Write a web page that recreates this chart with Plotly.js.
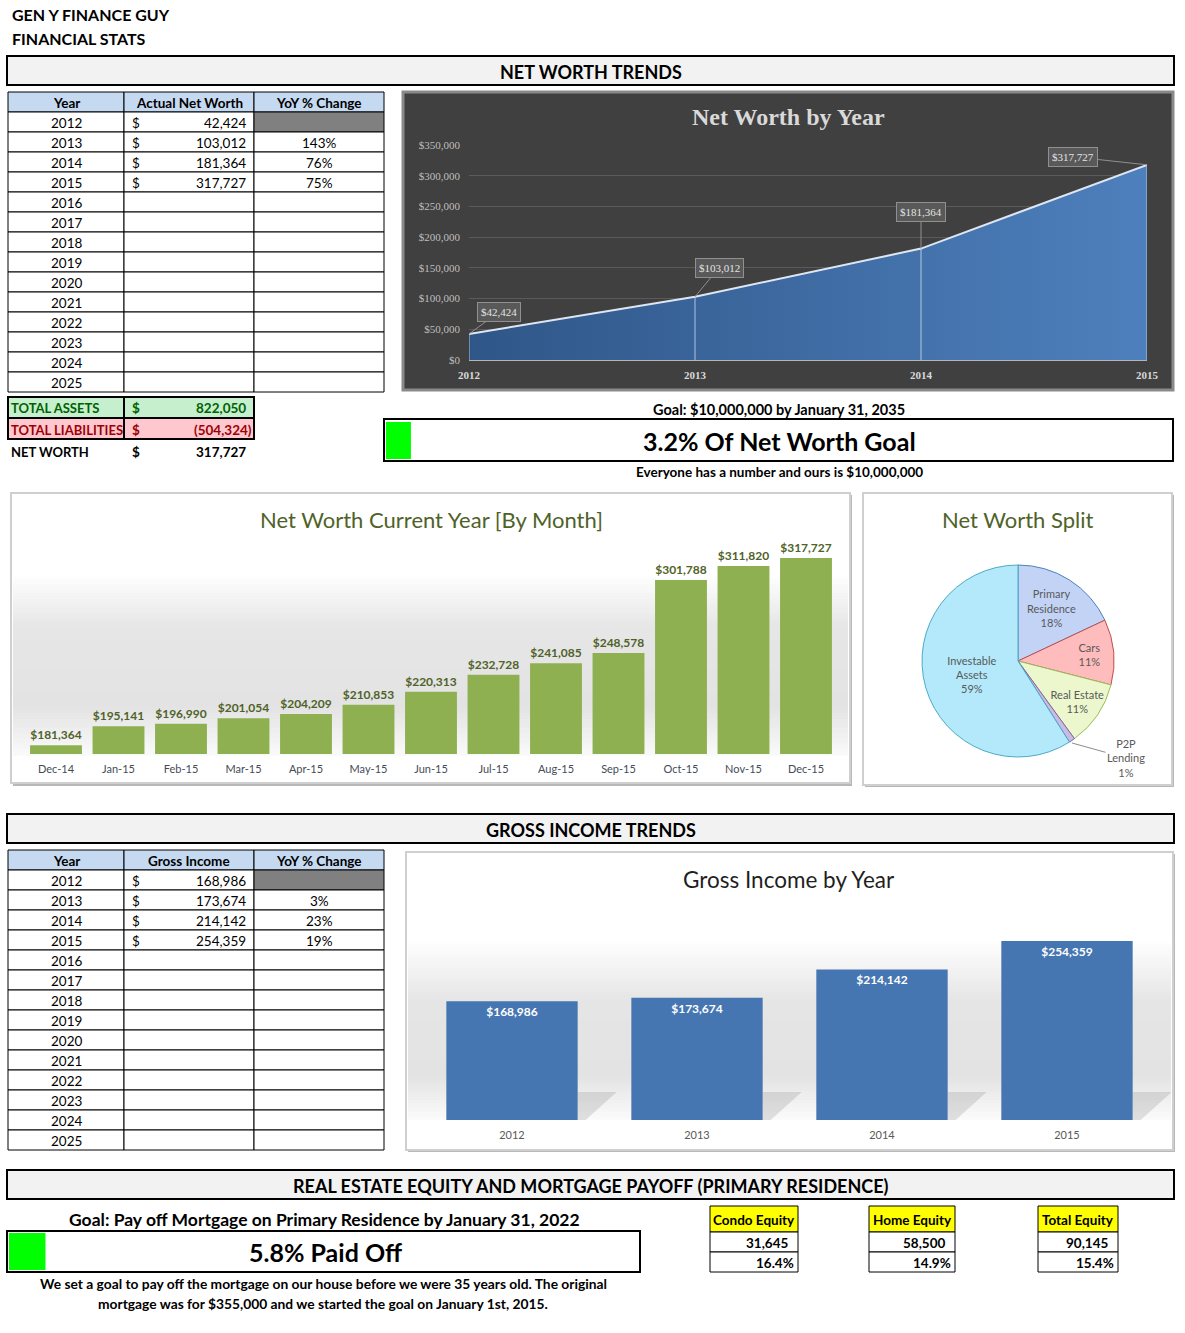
<!DOCTYPE html>
<html><head><meta charset="utf-8">
<script src="https://cdn.plot.ly/plotly-3.0.1.min.js"></script>
<style>html,body{margin:0;padding:0;background:#fff;}#chart{width:1185px;height:1333px;}</style>
</head><body><div id="chart"></div>
<script>
// ---------------- DATA ----------------
const tableYears = [2012,2013,2014,2015,2016,2017,2018,2019,2020,2021,2022,2023,2024,2025];
const netWorthActual = [42424, 103012, 181364, 317727];
const netWorthYoY = [null, 143, 76, 75];
const grossIncome = [168986, 173674, 214142, 254359];
const grossYoY = [null, 3, 23, 19];
const totalLabels = ['TOTAL ASSETS', 'TOTAL LIABILITIES', 'NET WORTH'];
const totalValues = [822050, -504324, 317727];
const months = ['Dec-14','Jan-15','Feb-15','Mar-15','Apr-15','May-15','Jun-15','Jul-15','Aug-15','Sep-15','Oct-15','Nov-15','Dec-15'];
const monthlyNetWorth = [181364,195141,196990,201054,204209,210853,220313,232728,241085,248578,301788,311820,317727];
const splitLabels = ['Primary<br>Residence','Cars','Real Estate','P2P<br>Lending','Investable<br>Assets'];
const splitPct = [18, 11, 11, 1, 59];
const netWorthGoal = 10000000;
const mortgagePaidPct = 5.8;
const equityNames = ['Condo Equity','Home Equity','Total Equity'];
const equityValues = [31645, 58500, 90145];
const equityPct = [16.4, 14.9, 15.4];

// ---------------- HELPERS ----------------
const W = 1185, H = 1333;
const PX = x => x / W, PY = y => 1 - y / H;
const F = 'Lato, "Open Sans", sans-serif';
const SERIF = '"Liberation Serif", "DejaVu Serif", serif';
const shapes = [], annotations = [];
const fmt = v => Math.abs(v).toLocaleString('en-US');
const money = v => v < 0 ? '(' + fmt(v) + ')' : fmt(v);

function rect(x0, y0, x1, y1, fill, lineColor, lineWidth) {
  shapes.push({type:'rect', xref:'paper', yref:'paper', layer:'below',
    x0:PX(x0), x1:PX(x1), y0:PY(y1), y1:PY(y0),
    fillcolor: fill || 'rgba(0,0,0,0)',
    line:{color: lineColor || 'rgba(0,0,0,0)', width: lineWidth || 0}});
}
function text(x, y, t, size, color, anchor, family) {
  annotations.push({xref:'paper', yref:'paper', x:PX(x), y:PY(y), text:t, showarrow:false,
    xanchor: anchor || 'center', yanchor:'middle', borderpad:0,
    font:{family: family || F, size: size || 13, color: color || '#000'}});
}
function hexToRgb(h){ return [1,3,5].map(i => parseInt(h.substr(i,2),16)); }
function gradient(x0, x1, stops, step) {
  const yEnd = stops[stops.length-1][0];
  for (let y = stops[0][0]; y < yEnd; y += step) {
    let k = 0; while (k < stops.length-2 && y >= stops[k+1][0]) k++;
    const a = stops[k], b = stops[k+1];
    const t = Math.min(1, Math.max(0, (y - a[0]) / (b[0] - a[0])));
    const ca = hexToRgb(a[1]), cb = hexToRgb(b[1]);
    const c = ca.map((v,i) => Math.round(v + (cb[i]-v)*t));
    rect(x0, y, x1, Math.min(y + step + 0.6, yEnd), 'rgb(' + c.join(',') + ')');
  }
}

// ---------------- PAGE TEXT & BOXES ----------------
text(11, 14, '<b>GEN Y FINANCE GUY</b>', 16, '#000', 'left');
text(11, 39, '<b>FINANCIAL STATS</b>', 16, '#000', 'left');

function sectionHeader(y0, y1, label) {
  rect(7, y0, 1174, y1, '#f2f2f2', '#000', 2);
  text(591, (y0 + y1) / 2 + 1, '<b>' + label + '</b>', 18);
}
sectionHeader(56, 85, 'NET WORTH TRENDS');
sectionHeader(814, 843, 'GROSS INCOME TRENDS');
sectionHeader(1170, 1199, 'REAL ESTATE EQUITY AND MORTGAGE PAYOFF (PRIMARY RESIDENCE)');

// ---------------- YEAR TABLES ----------------
const TS = 13.5;
function yearTable(top, header2, values, yoy) {
  const cx = [8, 124, 254, 384], rh = 20;
  const hdr = ['Year', header2, 'YoY % Change'];
  hdr.forEach((h, c) => {
    rect(cx[c], top, cx[c+1], top + rh, '#c5d9f1', '#000', 1);
    text((cx[c] + cx[c+1]) / 2, top + rh/2 + 1, '<b>' + h + '</b>', TS);
  });
  tableYears.forEach((yr, i) => {
    const y0 = top + rh * (i + 1), ym = y0 + rh/2 + 1;
    rect(cx[0], y0, cx[1], y0 + rh, '#fff', '#000', 1);
    text((cx[0] + cx[1]) / 2, ym, String(yr), TS);
    rect(cx[1], y0, cx[2], y0 + rh, '#fff', '#000', 1);
    if (values[i] != null) {
      text(131, ym, '$', TS, '#000', 'left');
      text(247, ym, fmt(values[i]), TS, '#000', 'right');
    }
    const grey = (i === 0 && values[i] != null);
    rect(cx[2], y0, cx[3], y0 + rh, grey ? '#808080' : '#fff', '#000', 1);
    if (yoy[i] != null) text((cx[2] + cx[3]) / 2, ym, yoy[i] + '%', TS);
  });
}
yearTable(92, 'Actual Net Worth', netWorthActual, netWorthYoY);
yearTable(850, 'Gross Income', grossIncome, grossYoY);

// totals block
const totFill = ['#c6efce', '#ffc7ce', null];
const totColor = ['#006100', '#9c0006', '#000'];
const totRows = [[397, 418], [418, 439], [441, 461]];
totalLabels.forEach((lab, i) => {
  const [y0, y1] = totRows[i], ym = (y0 + y1) / 2 + 1;
  if (totFill[i]) {
    rect(8, y0, 124, y1, totFill[i], '#000', 2);
    rect(124, y0, 254, y1, totFill[i], '#000', 2);
  }
  text(10, ym, '<b>' + lab + '</b>', 13, totColor[i], 'left');
  text(131, ym, '<b>$</b>', 13.5, totColor[i], 'left');
  text(totalValues[i] < 0 ? 253 : 247, ym, '<b>' + money(totalValues[i]) + '</b>', 13.5, totColor[i], 'right');
});

// ---------------- NET WORTH GOAL ----------------
const goalPct = netWorthActual[netWorthActual.length-1] / netWorthGoal;
text(779, 409, '<b>Goal: $' + fmt(netWorthGoal) + ' by January 31, 2035</b>', 14.5);
rect(384, 419, 1173, 461, '#fff', '#000', 2);
text(779, 441, '<b>' + (goalPct*100).toFixed(1) + '% Of Net Worth Goal</b>', 25);
text(779, 472, '<b>Everyone has a number and ours is $' + fmt(netWorthGoal) + '</b>', 13.5);

// ---------------- MORTGAGE ----------------
text(324, 1219, '<b>Goal: Pay off Mortgage on Primary Residence by January 31, 2022</b>', 17.5);
rect(7, 1231, 640, 1272, '#fff', '#000', 2);
text(325, 1252, '<b>' + mortgagePaidPct.toFixed(1) + '% Paid Off</b>', 25);
text(323, 1283, '<b>We set a goal to pay off the mortgage on our house before we were 35 years old. The original</b>', 13.8);
text(323, 1303, '<b>mortgage was for $355,000 and we started the goal on January 1st, 2015.</b>', 13.8);

// equity mini tables
const eqX = [[710, 798], [869, 955], [1038, 1118]];
equityNames.forEach((n, i) => {
  const [x0, x1] = eqX[i];
  rect(x0, 1206, x1, 1232, '#ffff00', '#000', 1);
  text((x0 + x1) / 2, 1220, '<b>' + n + '</b>', 13.5);
  rect(x0, 1232, x1, 1252, '#fff', '#000', 1);
  text(x1 - 9, 1243, '<b>' + fmt(equityValues[i]) + '</b>', 13.5, '#000', 'right');
  rect(x0, 1252, x1, 1272, '#fff', '#000', 1);
  text(x1 - 3, 1263, '<b>' + equityPct[i].toFixed(1) + '%</b>', 13.5, '#000', 'right');
});

// ---------------- CHART PANELS ----------------
// Net worth by year (dark)
rect(403, 92, 1173, 390, '#404040', '#8a8a8a', 3);
text(788, 117, '<b>Net Worth by Year</b>', 24, '#d9d9d9', 'center', SERIF);

// Monthly chart panel
rect(13, 495, 852, 786, '#b8b8b8');
rect(11, 493, 850, 783, '#fff', '#cfcfcf', 2);
gradient(13, 848, [[572,'#ffffff'],[625,'#e6e6e6'],[705,'#e3e3e3'],[756,'#fbfbfb']], 3);
text(431, 519, 'Net Worth Current Year [By Month]', 22, '#4f6228');

// Pie panel
rect(865, 495, 1174, 787, '#b8b8b8');
rect(863, 493, 1172, 785, '#fff', '#cfcfcf', 2);
text(1018, 519, 'Net Worth Split', 22, '#4f6228');

// Gross income panel
rect(408, 854, 1175, 1152, '#b8b8b8');
rect(406, 852, 1173, 1150, '#fff', '#cfcfcf', 2);
gradient(408, 1171, [[938,'#ffffff'],[1000,'#e5e5e5'],[1075,'#e3e3e3'],[1120,'#fcfcfc']], 3);
text(789, 879, 'Gross Income by Year', 22.5, '#1f1f1f');
// bar shadows (decorative) following bar slots
const gxL = 419.5, gSlot = 185, gHalf = 0.355 * 185;
grossIncome.forEach((v, i) => {
  const R = gxL + gSlot * (i + 0.5) + gHalf;
  shapes.push({type:'path', xref:'paper', yref:'paper', layer:'below',
    path: 'M' + PX(R) + ',' + PY(1120) + ' L' + PX(R) + ',' + PY(1092) + ' L' + PX(R+39) + ',' + PY(1092) + ' L' + PX(R+8) + ',' + PY(1120) + ' Z',
    fillcolor:'rgba(90,90,90,0.17)', line:{width:0}});
});

// ---------------- TRACES ----------------
const nYears = netWorthActual.length;
const nwYears = tableYears.slice(0, nYears);
const dropX = [], dropY = [];
nwYears.forEach((yr, i) => { dropX.push(yr, yr, null); dropY.push(0, netWorthActual[i], null); });

const traces = [
  {type:'scatter', x: nwYears, y: netWorthActual, mode:'lines', fill:'tozeroy',
   fillgradient:{type:'horizontal', colorscale:[[0,'#2f5688'],[1,'#4e80bd']]},
   line:{color:'#dde6f2', width:2}, xaxis:'x', yaxis:'y', hoverinfo:'skip'},
  {type:'scatter', x: dropX, y: dropY, mode:'lines', line:{color:'rgba(215,228,245,0.75)', width:1},
   xaxis:'x', yaxis:'y', hoverinfo:'skip'},
  {type:'bar', x: months, y: monthlyNetWorth, width: 0.83, xaxis:'x2', yaxis:'y2',
   marker:{color:'#8fb050'}, text: monthlyNetWorth.map(v => '$' + fmt(v)), textposition:'outside',
   textfont:{family:F, size:12, color:'#4f6228', weight:700}, cliponaxis:false, hoverinfo:'skip'},
  {type:'bar', x: nwYears.map(String), y: grossIncome, width: 0.71, xaxis:'x3', yaxis:'y3',
   marker:{color:'#4676b1'}, text: grossIncome.map(v => '$' + fmt(v)), textposition:'inside',
   insidetextanchor:'end', textangle:0, constraintext:'none',
   textfont:{family:F, size:12, color:'#ffffff', weight:700}, hoverinfo:'skip'},
  {type:'bar', orientation:'h', x:[goalPct], y:[0], width:1, xaxis:'x4', yaxis:'y4',
   marker:{color:'#00ff00'}, hoverinfo:'skip'},
  {type:'bar', orientation:'h', x:[mortgagePaidPct/100], y:[0], width:1, xaxis:'x5', yaxis:'y5',
   marker:{color:'#00ff00'}, hoverinfo:'skip'},
  {type:'pie', labels: splitLabels, values: splitPct, sort:false, direction:'clockwise', rotation:0,
   domain:{x:[PX(922), PX(1114)], y:[PY(757), PY(565)]},
   marker:{colors:['#c3d3f6','#ffbcbc','#ecf7cd','#c8bce6','#b3e9fa'],
           line:{color:['#4f81bd','#c0504d','#9bbb59','#8064a2','#4bacc6'], width:1}},
   textinfo:'label+percent', texttemplate:'%{label}<br>%{percent:.0%}',
   textposition:['inside','inside','inside','none','inside'], insidetextorientation:'horizontal',
   insidetextfont:{family:F, size:11, color:'#595959'}, hoverinfo:'skip', showlegend:false}
];

// chart 1 labels with callouts
const nwLabelOffsets = [[30,-22],[24,-29],[0,-37],[-74,-8]];
netWorthActual.forEach((v, i) => {
  annotations.push({xref:'x', yref:'y', x: nwYears[i], y: v, text:'$' + fmt(v),
    showarrow:true, arrowhead:0, arrowwidth:1, arrowcolor:'#909090',
    ax: nwLabelOffsets[i][0], ay: nwLabelOffsets[i][1],
    bgcolor:'#595959', bordercolor:'#909090', borderwidth:1, borderpad:3,
    font:{family:SERIF, size:11, color:'#e3e3e3'}});
});
// P2P label (outside slice)
annotations.push({xref:'paper', yref:'paper', x:PX(1072), y:PY(743),
  text: splitLabels[3] + '<br>' + splitPct[3] + '%', showarrow:true, arrowhead:0, arrowwidth:1,
  arrowcolor:'#8c8c8c', ax:54, ay:15, font:{family:F, size:11, color:'#595959'}});

const hidden = {visible:false, fixedrange:true};
const layout = {
  width: W, height: H, margin:{l:0, r:0, t:0, b:0}, autosize:false,
  paper_bgcolor:'#ffffff', plot_bgcolor:'rgba(0,0,0,0)', showlegend:false,
  font:{family:F},
  uniformtext:{mode:'show', minsize:11},
  xaxis:{domain:[PX(469), PX(1147)], range:[2012, 2015], anchor:'y', tickvals: nwYears,
    ticktext: nwYears.map(String), showgrid:false, zeroline:false, showline:true,
    linecolor:'#b5b5b5', linewidth:1, ticks:'', ticklabelstandoff:5, fixedrange:true,
    tickfont:{family:SERIF, size:11, color:'#d9d9d9', weight:700}},
  yaxis:{domain:[PY(360), PY(145)], range:[0, 350000], dtick:50000, anchor:'x',
    tickprefix:'$', tickformat:',d', gridcolor:'#5a5a5a', gridwidth:1, zeroline:false,
    showline:false, ticks:'', ticklabelstandoff:8, fixedrange:true,
    tickfont:{family:SERIF, size:11, color:'#bfbfbf'}},
  xaxis2:{domain:[PX(24.75), PX(837.25)], type:'category', anchor:'y2', showgrid:false,
    zeroline:false, showline:false, ticks:'', ticklabelstandoff:7, fixedrange:true,
    tickfont:{family:F, size:11, color:'#444c58'}},
  yaxis2:Object.assign({domain:[PY(754), PY(548)], range:[175000, 325000], anchor:'x2'}, hidden),
  xaxis3:{domain:[PX(419.5), PX(1159.5)], type:'category', anchor:'y3', showgrid:false,
    zeroline:false, showline:false, ticks:'', ticklabelstandoff:7, fixedrange:true,
    tickfont:{family:F, size:11, color:'#595959'}},
  yaxis3:Object.assign({domain:[PY(1120), PY(909)], range:[0, 300000], anchor:'x3'}, hidden),
  xaxis4:Object.assign({domain:[PX(386), PX(1171)], range:[0, 1], anchor:'y4'}, hidden),
  yaxis4:Object.assign({domain:[PY(459), PY(422)], range:[-0.5, 0.5], anchor:'x4'}, hidden),
  xaxis5:Object.assign({domain:[PX(9), PX(638)], range:[0, 1], anchor:'y5'}, hidden),
  yaxis5:Object.assign({domain:[PY(1270), PY(1233)], range:[-0.5, 0.5], anchor:'x5'}, hidden),
  shapes: shapes, annotations: annotations
};
Plotly.newPlot('chart', traces, layout, {displayModeBar:false, staticPlot:true});
</script></body></html>
